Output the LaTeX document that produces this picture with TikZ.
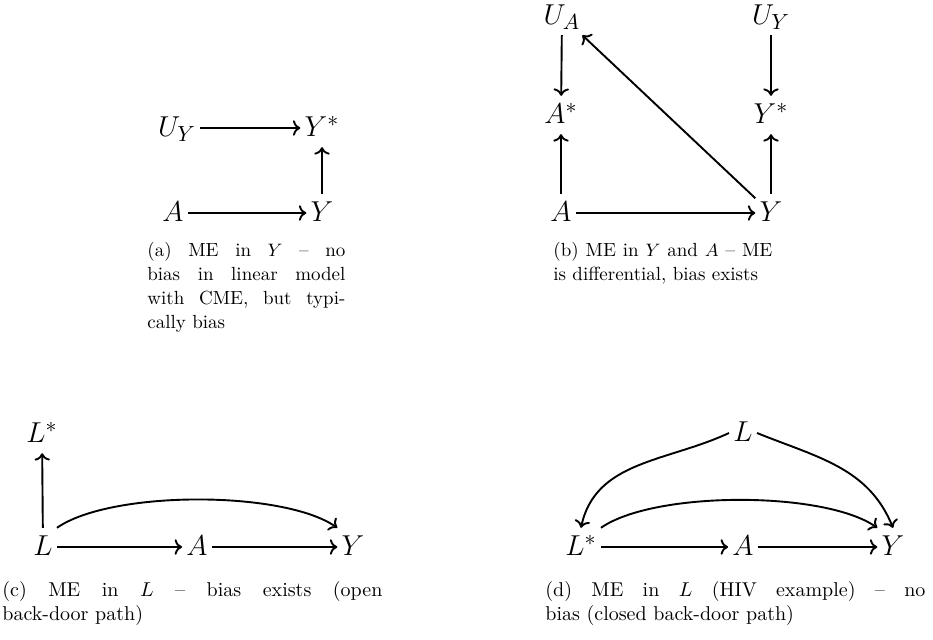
\documentclass[tikz,border=0pt]{standalone}
\usetikzlibrary{arrows.meta}
\begin{document}
\begin{tikzpicture}[x=0.5pt,y=-0.5pt,
  var/.style={font=\fontsize{15}{18}\selectfont, inner xsep=2pt, inner ysep=3.5pt, text height=10.3pt, text depth=1.5pt},
  arr/.style={->, line width=0.95pt},
  captxt/.style={anchor=north west, inner sep=0pt, align=justify, font=\fontsize{10}{12}\selectfont},
  captsm/.style={captxt, font=\fontsize{9.5}{12}\selectfont}]
\useasboundingbox (0,0) rectangle (933,639);
% (a)
\node[var] (aUY) at (177,128) {$U_Y$};
\node[var] (aYs) at (322,128) {$Y^*$};
\node[var] (aA)  at (173,213) {$A$};
\node[var] (aY)  at (322,213) {$Y$};
\draw[arr] (aUY) -- (aYs);
\draw[arr] (aA) -- (aY);
\draw[arr] (aY) -- (aYs);
\node[captsm, text width=99pt] (capa) at (147,242) {(a) ME in $Y$ -- no\linebreak bias in linear model\linebreak with CME, but typi-\linebreak cally bias};
% (b)
\node[var] (bUA) at (562,16) {$U_A$};
\node[var] (bUY) at (771,16) {$U_Y$};
\node[var] (bAs) at (561,115) {$A^*$};
\node[var] (bYs) at (771,115) {$Y^*$};
\node[var] (bA)  at (561,213) {$A$};
\node[var] (bY)  at (771,213) {$Y$};
\draw[arr] (bUA) -- (bAs);
\draw[arr] (bA) -- (bAs);
\draw[arr] (bUY) -- (bYs);
\draw[arr] (bY) -- (bYs);
\draw[arr] (bA) -- (bY);
\draw[arr] (bY) -- (bUA);
\node[captsm, text width=109.5pt] (capb) at (553,242) {(b) ME in $Y$ and $A$ -- ME\linebreak is differential, bias exists};
% (c)
\node[var] (cLs) at (42,434) {$L^*$};
\node[var] (cL)  at (43,547) {$L$};
\node[var] (cA)  at (197,547) {$A$};
\node[var] (cY)  at (353,547) {$Y$};
\draw[arr] (cL) -- (cLs);
\draw[arr] (cL) -- (cA);
\draw[arr] (cA) -- (cY);
\draw[arr] (cL.north east) to[out=35,in=145,looseness=0.6] (cY.north west);
\node[captxt, text width=190pt] (capc) at (2,581) {(c) ME in $L$ -- bias exists (open\linebreak back-door path)};
% (d)
\node[var] (dL)  at (743,433) {$L$};
\node[var] (dLs) at (581,547) {$L^*$};
\node[var] (dA)  at (743,547) {$A$};
\node[var] (dY)  at (893,547) {$Y$};
\draw[arr] (dLs) -- (dA);
\draw[arr] (dA) -- (dY);
\draw[arr] (dLs.north east) to[out=35,in=145,looseness=0.6] (dY.north west);
\draw[arr] (dL.west) to[out=205,in=78] (dLs.north);
\draw[arr] (dL.east) to[out=-22,in=112] (dY.north);
\node[captxt, text width=190pt] (capd) at (545,581) {(d) ME in $L$ (HIV example) -- no\linebreak bias (closed back-door path)};
\end{tikzpicture}
\end{document}
